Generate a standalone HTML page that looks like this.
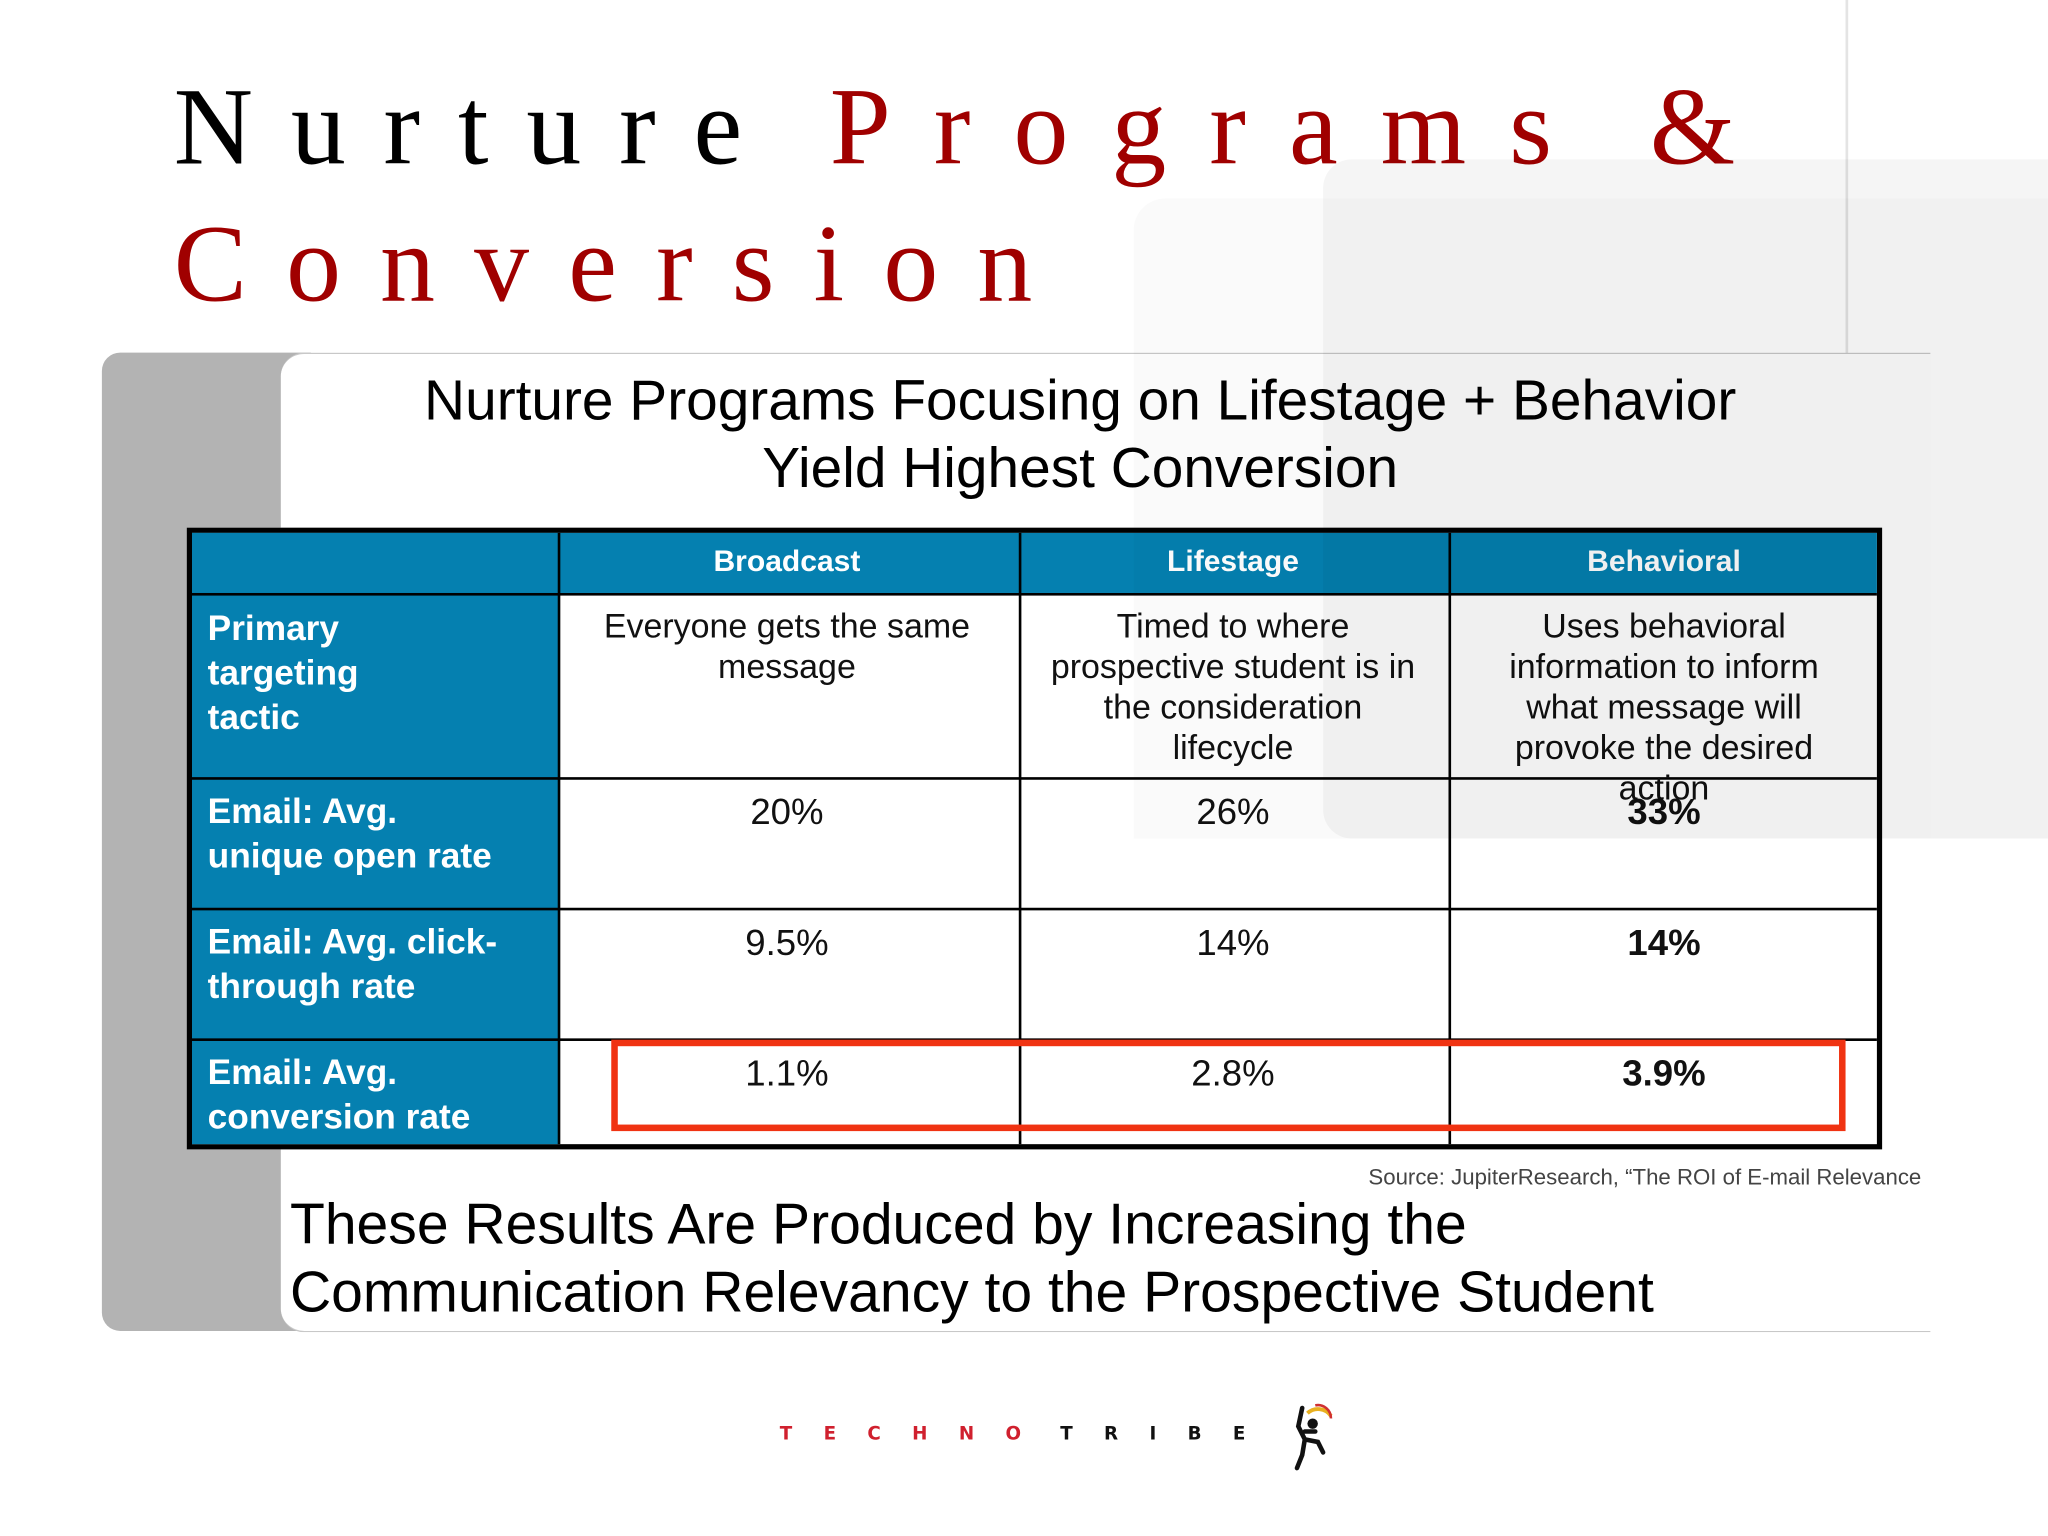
<!DOCTYPE html>
<html><head><meta charset="utf-8">
<style>
html,body{margin:0;padding:0;background:#fff;overflow:hidden}
#root{position:absolute;left:0;top:0;width:1568px;height:1176px;transform:scale(1.306122);transform-origin:0 0;font-family:"Liberation Sans",sans-serif}
.abs{position:absolute}
.t{position:absolute;white-space:nowrap}
.cell{position:absolute;box-sizing:border-box;text-align:center;font-size:26px;line-height:31px;color:#111}
.hd{position:absolute;color:#fff;font-weight:bold;font-size:23px;text-align:center;line-height:48px}
.rl{position:absolute;color:#fff;font-weight:bold;font-size:27px;line-height:34px;left:12px}
</style></head>
<body>
<div id="root">
  <div class="abs" style="left:1413px;top:0;width:2px;height:780px;background:#e4e4e4"></div>

  <div class="t" style="left:133px;top:50px;font-family:'Liberation Serif',serif;font-size:84px;letter-spacing:29px;word-spacing:-12px;line-height:96px;color:#000">Nurture <span style="color:#a00000;letter-spacing:33px">Programs &amp;</span></div>
  <div class="t" style="left:133px;top:155px;font-family:'Liberation Serif',serif;font-size:84px;letter-spacing:30px;line-height:96px;color:#a00000">Conversion</div>

  <div class="abs" style="left:78px;top:270px;width:160px;height:749px;background:#b3b3b3;border-radius:14px 0 0 14px"></div>
  <div class="abs" style="left:215px;top:270px;width:1263px;height:748px;background:#fff;border-radius:18px 0 0 18px;border-top:1px solid #c8c8c8;border-bottom:1px solid #c8c8c8"></div>

  <div class="t" style="left:127px;top:281px;width:1400px;text-align:center;font-size:43.5px;line-height:52px;color:#000;white-space:normal">Nurture Programs Focusing on Lifestage + Behavior<br>Yield Highest Conversion</div>

  <div class="abs" style="left:143px;top:404px;width:1298px;height:476px;background:#fff;box-sizing:border-box;border:4px solid #000">
    <div class="abs" style="left:0;top:0;width:1290px;height:46px;background:#0580b0"></div>
    <div class="abs" style="left:0;top:0;width:281px;height:468px;background:#0580b0"></div>
    <div class="hd" style="left:279px;top:-2px;width:353px;line-height:46px">Broadcast</div>
    <div class="hd" style="left:632px;top:-2px;width:330px;line-height:46px">Lifestage</div>
    <div class="hd" style="left:962px;top:-2px;width:330px;line-height:46px">Behavioral</div>

    <div class="abs" style="left:280px;top:0;width:2px;height:468px;background:#000"></div>
    <div class="abs" style="left:633px;top:0;width:2px;height:468px;background:#000"></div>
    <div class="abs" style="left:962px;top:0;width:2px;height:468px;background:#000"></div>
    <div class="abs" style="left:0;top:46px;width:1290px;height:2px;background:#000"></div>
    <div class="abs" style="left:0;top:187px;width:1290px;height:2px;background:#000"></div>
    <div class="abs" style="left:0;top:287px;width:1290px;height:2px;background:#000"></div>
    <div class="abs" style="left:0;top:387px;width:1290px;height:2px;background:#000"></div>

    <div class="rl" style="top:56px">Primary<br>targeting<br>tactic</div>
    <div class="rl" style="top:196px">Email: Avg.<br>unique open rate</div>
    <div class="rl" style="top:296px">Email: Avg. click-<br>through rate</div>
    <div class="rl" style="top:396px">Email: Avg.<br>conversion rate</div>

    <div class="cell" style="left:279px;top:56px;width:353px">Everyone gets the same<br>message</div>
    <div class="cell" style="left:632px;top:56px;width:330px">Timed to where<br>prospective student is in<br>the consideration<br>lifecycle</div>
    <div class="cell" style="left:962px;top:56px;width:330px">Uses behavioral<br>information to inform<br>what message will<br>provoke the desired<br>action</div>

    <div class="cell" style="left:279px;top:198px;width:353px;font-size:28px">20%</div>
    <div class="cell" style="left:632px;top:198px;width:330px;font-size:28px">26%</div>
    <div class="cell" style="left:962px;top:198px;width:330px;font-size:28px;font-weight:bold">33%</div>

    <div class="cell" style="left:279px;top:298px;width:353px;font-size:28px">9.5%</div>
    <div class="cell" style="left:632px;top:298px;width:330px;font-size:28px">14%</div>
    <div class="cell" style="left:962px;top:298px;width:330px;font-size:28px;font-weight:bold">14%</div>

    <div class="cell" style="left:279px;top:398px;width:353px;font-size:28px">1.1%</div>
    <div class="cell" style="left:632px;top:398px;width:330px;font-size:28px">2.8%</div>
    <div class="cell" style="left:962px;top:398px;width:330px;font-size:28px;font-weight:bold">3.9%</div>
  </div>

  <div class="abs" style="left:468px;top:796px;width:945px;height:70px;box-sizing:border-box;border:5px solid #f03312"></div>

  <div class="abs" style="left:868px;top:152px;width:700px;height:490px;background:rgba(0,0,0,0.018);border-radius:24px 0 0 0"></div>
  <div class="abs" style="left:1013px;top:122px;width:555px;height:520px;background:rgba(0,0,0,0.04);border-radius:22px 0 0 22px"></div>

  <div class="t" style="left:900px;top:892px;width:571px;text-align:right;font-size:17px;line-height:20px;color:#444">Source: JupiterResearch, “The ROI of E-mail Relevance</div>

  <div class="t" style="left:222px;top:912px;font-size:43.7px;line-height:52px;color:#000">These Results Are Produced by Increasing the<br>Communication Relevancy to the Prospective Student</div>

  <div class="t" style="left:597px;top:1088px;font-family:'DejaVu Sans',sans-serif;font-weight:bold;font-size:14px;line-height:20px;letter-spacing:0">
    <span style="color:#d0202e;letter-spacing:24px">TECHNO</span><span style="color:#111;letter-spacing:24px;margin-left:6px">TRIBE</span>
  </div>
  <svg class="abs" style="left:985px;top:1068px" width="40" height="60" viewBox="0 0 40 60">
    <path d="M16 14 A12 12 0 0 1 34 16" stroke="#e8b020" stroke-width="3" fill="none"/>
    <path d="M22 8 A10 10 0 0 1 34 18" stroke="#d03030" stroke-width="2" fill="none"/>
    <circle cx="20" cy="22" r="4" fill="#111"/>
    <path d="M12 10 L9 24 L14 34 L12 46 L8 56 M14 34 L24 36 L28 44 M14 28 L22 28" stroke="#111" stroke-width="3.5" fill="none" stroke-linecap="round"/>
  </svg>
</div>
</body></html>
